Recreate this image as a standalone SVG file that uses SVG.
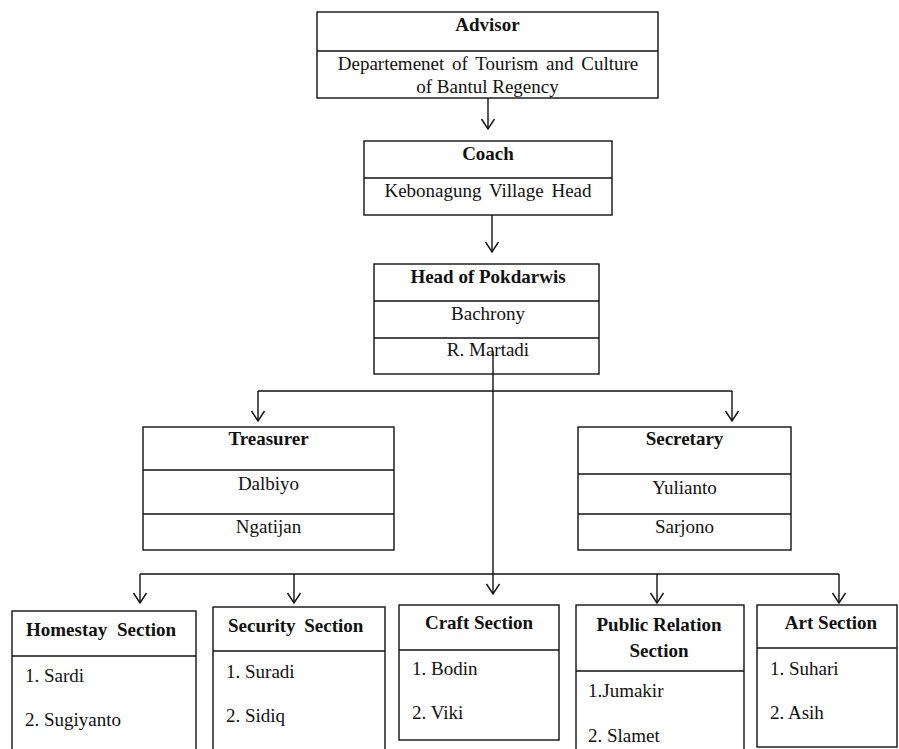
<svg xmlns="http://www.w3.org/2000/svg" width="899" height="749" viewBox="0 0 899 749">
<defs>
<marker id="arr" markerUnits="userSpaceOnUse" markerWidth="16" markerHeight="16" viewBox="-12 -8 14 16" refX="0" refY="0" orient="auto">
<path d="M-10,-6.5 L0,0 L-10,6.5" fill="none" stroke="#111" stroke-width="1.4"/>
</marker>
</defs>
<style>
.box{fill:#fff;stroke:#111;stroke-width:1.4}
.div{stroke:#111;stroke-width:1.4}
.t{font-family:"Liberation Serif","Times New Roman",serif;font-size:19px;fill:#111}
.b{font-weight:bold}
.c{text-anchor:middle}
.con{fill:none;stroke:#111;stroke-width:1.4}
</style>
<rect width="899" height="749" fill="#fff"/>

<g id="advisor">
<rect class="box" x="317" y="12" width="341" height="86"/>
<line class="div" x1="317" y1="51" x2="658" y2="51"/>
<text class="t b c" x="487.5" y="31">Advisor</text>
<text class="t c" x="488" y="70" word-spacing="3">Departemenet of Tourism and Culture</text>
<text class="t c" x="487.5" y="93">of Bantul Regency</text>
</g>

<g id="coach">
<rect class="box" x="364" y="141" width="248" height="74"/>
<line class="div" x1="364" y1="178" x2="612" y2="178"/>
<text class="t b c" x="488" y="160">Coach</text>
<text class="t c" x="488" y="197" word-spacing="3">Kebonagung Village Head</text>
</g>

<g id="head">
<rect class="box" x="374" y="264" width="225" height="110"/>
<line class="div" x1="374" y1="301" x2="599" y2="301"/>
<line class="div" x1="374" y1="338" x2="599" y2="338"/>
<text class="t b c" x="488" y="283">Head of Pokdarwis</text>
<text class="t c" x="488" y="320">Bachrony</text>
<text class="t c" x="488" y="356">R. Martadi</text>
</g>

<g id="treasurer">
<rect class="box" x="143" y="427" width="251" height="123"/>
<line class="div" x1="143" y1="470" x2="394" y2="470"/>
<line class="div" x1="143" y1="514" x2="394" y2="514"/>
<text class="t b c" x="268.5" y="445">Treasurer</text>
<text class="t c" x="268.5" y="490">Dalbiyo</text>
<text class="t c" x="268.5" y="533">Ngatijan</text>
</g>

<g id="secretary">
<rect class="box" x="578" y="427" width="213" height="123"/>
<line class="div" x1="578" y1="474" x2="791" y2="474"/>
<line class="div" x1="578" y1="514" x2="791" y2="514"/>
<text class="t b c" x="684.5" y="445">Secretary</text>
<text class="t c" x="684.5" y="494">Yulianto</text>
<text class="t c" x="684.5" y="533">Sarjono</text>
</g>

<g id="homestay">
<rect class="box" x="12" y="611" width="184" height="150"/>
<line class="div" x1="12" y1="656" x2="196" y2="656"/>
<text class="t b" x="26" y="636" word-spacing="5">Homestay Section</text>
<text class="t" x="25" y="682">1. Sardi</text>
<text class="t" x="25" y="726">2. Sugiyanto</text>
</g>

<g id="security">
<rect class="box" x="213" y="607" width="172" height="150"/>
<line class="div" x1="213" y1="651" x2="385" y2="651"/>
<text class="t b" x="228" y="632" word-spacing="4">Security Section</text>
<text class="t" x="226" y="678">1. Suradi</text>
<text class="t" x="226" y="722">2. Sidiq</text>
</g>

<g id="craft">
<rect class="box" x="399" y="605" width="160" height="135"/>
<line class="div" x1="399" y1="650" x2="559" y2="650"/>
<text class="t b c" x="479" y="629">Craft Section</text>
<text class="t" x="412" y="675">1. Bodin</text>
<text class="t" x="412" y="719">2. Viki</text>
</g>

<g id="public-relation">
<rect class="box" x="576" y="605" width="168" height="160"/>
<line class="div" x1="576" y1="671" x2="744" y2="671"/>
<text class="t b c" x="659" y="631">Public Relation</text>
<text class="t b c" x="659" y="657">Section</text>
<text class="t" x="588" y="697">1.Jumakir</text>
<text class="t" x="588" y="742">2. Slamet</text>
</g>

<g id="art">
<rect class="box" x="757" y="605" width="140" height="142"/>
<line class="div" x1="757" y1="648" x2="897" y2="648"/>
<text class="t b c" x="831" y="629">Art Section</text>
<text class="t" x="770" y="675">1. Suhari</text>
<text class="t" x="770" y="719">2. Asih</text>
</g>

<g id="connectors">
<line class="con" x1="488" y1="98" x2="488" y2="129" marker-end="url(#arr)"/>
<line class="con" x1="492" y1="215" x2="492" y2="252" marker-end="url(#arr)"/>
<line class="con" x1="493" y1="351" x2="493" y2="594" marker-end="url(#arr)"/>
<line class="con" x1="258" y1="391" x2="732" y2="391"/>
<line class="con" x1="258" y1="391" x2="258" y2="421" marker-end="url(#arr)"/>
<line class="con" x1="732" y1="391" x2="732" y2="421" marker-end="url(#arr)"/>
<line class="con" x1="140" y1="574" x2="839" y2="574"/>
<line class="con" x1="140" y1="574" x2="140" y2="603" marker-end="url(#arr)"/>
<line class="con" x1="294" y1="574" x2="294" y2="603" marker-end="url(#arr)"/>
<line class="con" x1="657" y1="574" x2="657" y2="603" marker-end="url(#arr)"/>
<line class="con" x1="839" y1="574" x2="839" y2="603" marker-end="url(#arr)"/>
</g>
</svg>
